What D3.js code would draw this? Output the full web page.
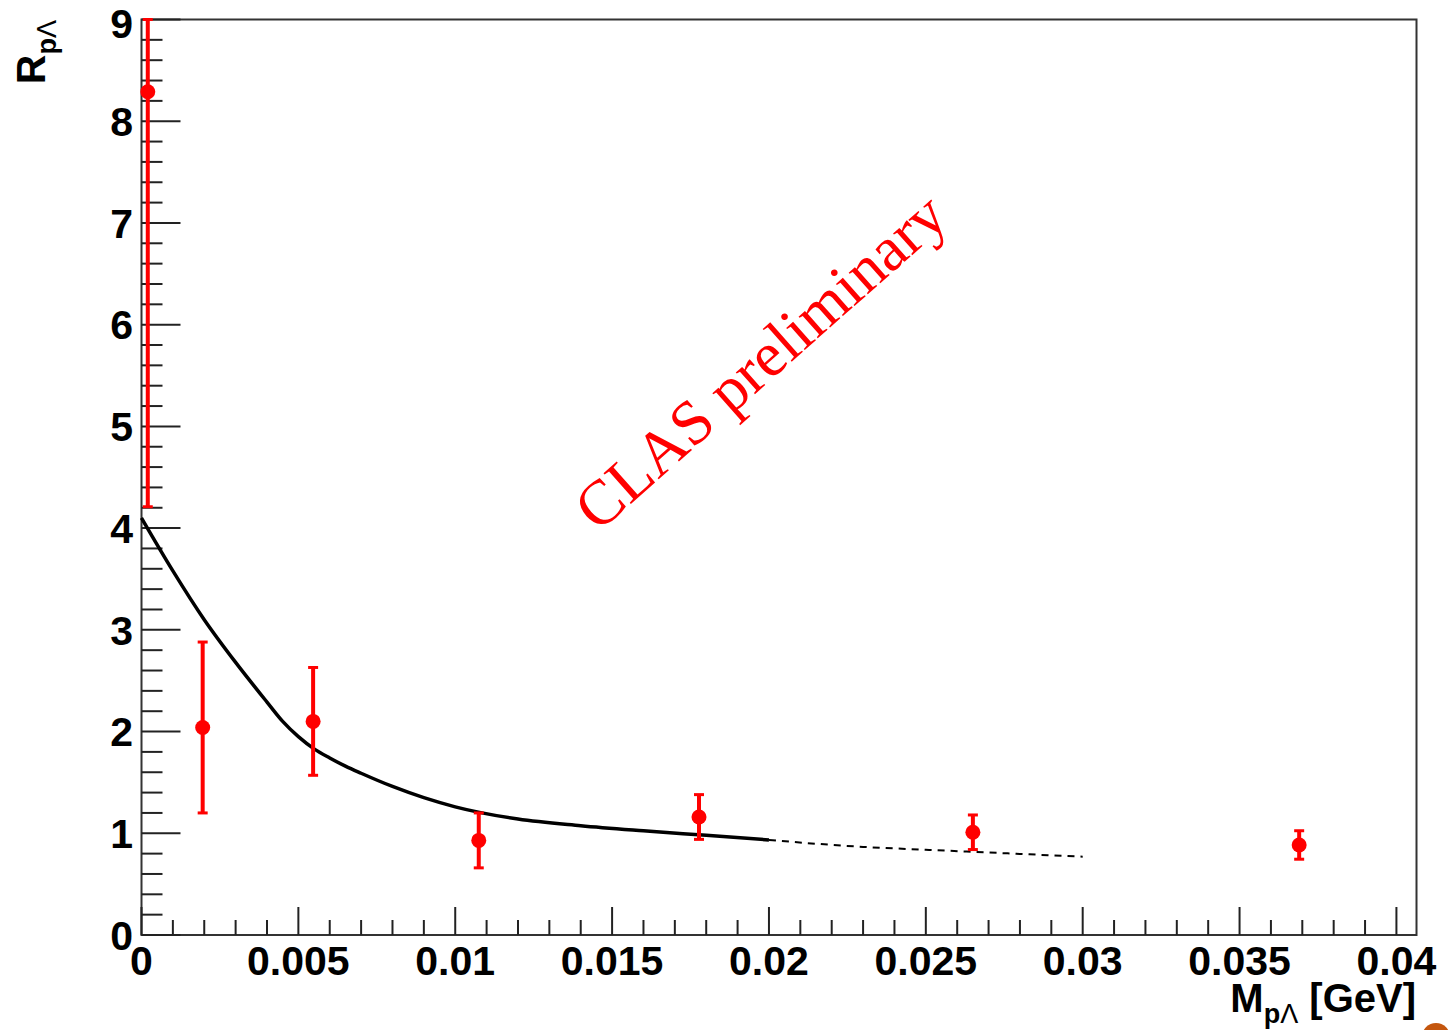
<!DOCTYPE html>
<html>
<head>
<meta charset="utf-8">
<script src="https://cdn.jsdelivr.net/npm/d3@7"></script>
<style>
  body { margin: 0; background: #fff; }
  svg { display: block; }
</style>
</head>
<body>
<svg id="chart" width="1452" height="1030"></svg>
<script>
// ---- data ----
var pointX = [0.0002, 0.00195, 0.00547, 0.01075, 0.01777, 0.0265, 0.0369];
var pointY = [8.29, 2.04, 2.10, 0.93, 1.16, 1.01, 0.885];
var pointErr = [4.08, 0.84, 0.53, 0.27, 0.22, 0.17, 0.14];

// fitted curve (solid part) and its extrapolation (dashed)
var fitX = [0, 0.001, 0.002, 0.003, 0.004, 0.0045, 0.005, 0.0055, 0.006, 0.0065, 0.007, 0.008, 0.009,
            0.010, 0.012, 0.014, 0.016, 0.018, 0.020];
var fitY = [4.10, 3.58, 3.10, 2.68, 2.29, 2.10, 1.95, 1.83, 1.74, 1.66, 1.59, 1.46, 1.35,
            1.26, 1.14, 1.075, 1.025, 0.98, 0.935];
var extX = [0.0200, 0.0215, 0.0230, 0.0250, 0.0265, 0.0280, 0.0300];
var extY = [0.935, 0.897, 0.866, 0.838, 0.818, 0.797, 0.77];

var xTicks = [0, 0.005, 0.01, 0.015, 0.02, 0.025, 0.03, 0.035, 0.04];
var xTickLabels = ["0", "0.005", "0.01", "0.015", "0.02", "0.025", "0.03", "0.035", "0.04"];
var yTicks = [0, 1, 2, 3, 4, 5, 6, 7, 8, 9];

// ---- layout ----
var svg = d3.select("#chart");
var padL = 141.5, padT = 19.5, padR = 1416.5, padB = 935;

var x = d3.scaleLinear().domain([0, 0.04064]).range([padL, padR]);
var y = d3.scaleLinear().domain([0, 9]).range([padB, padT]);

svg.append("rect").attr("width", 1452).attr("height", 1030).attr("fill", "#fff");

// frame
svg.append("rect")
  .attr("x", padL).attr("y", padT)
  .attr("width", padR - padL).attr("height", padB - padT)
  .attr("fill", "none").attr("stroke", "#333").attr("stroke-width", 2);

// x axis ticks
var xMinor = d3.range(0, 41).map(function(i) { return i * 0.001; });
svg.append("g").selectAll("line").data(xMinor).enter().append("line")
  .attr("x1", function(d) { return x(d); }).attr("x2", function(d) { return x(d); })
  .attr("y1", padB).attr("y2", function(d, i) { return i % 5 == 0 ? padB - 28 : padB - 15; })
  .attr("stroke", "#222").attr("stroke-width", 2);

svg.append("g").selectAll("text").data(xTicks).enter().append("text")
  .attr("x", function(d) { return x(d); })
  .attr("y", 975)
  .attr("text-anchor", "middle")
  .style("font", "bold 41px 'Liberation Sans', Arial, sans-serif")
  .text(function(d, i) { return xTickLabels[i]; });

// y axis ticks
var yMinor = d3.range(0, 46).map(function(i) { return i * 0.2; });
svg.append("g").selectAll("line").data(yMinor).enter().append("line")
  .attr("y1", function(d) { return y(d); }).attr("y2", function(d) { return y(d); })
  .attr("x1", padL).attr("x2", function(d, i) { return i % 5 == 0 ? padL + 39 : padL + 21; })
  .attr("stroke", "#222").attr("stroke-width", 2);

svg.append("g").selectAll("text").data(yTicks).enter().append("text")
  .attr("x", 133)
  .attr("y", function(d) { return d == 9 ? y(d) + 4 : y(d); })
  .attr("dy", "0.36em")
  .attr("text-anchor", "end")
  .style("font", "bold 41px 'Liberation Sans', Arial, sans-serif")
  .text(function(d) { return d; });

// axis titles
var xt = svg.append("text")
  .attr("x", 1416).attr("y", 1012)
  .attr("text-anchor", "end")
  .style("font", "bold 40px 'Liberation Sans', Arial, sans-serif");
xt.append("tspan").text("M");
xt.append("tspan").attr("dy", 11).style("font-size", "27px").text("p");
xt.append("tspan").style("font-size", "27px").style("font-weight", "normal").text("Λ");
xt.append("tspan").attr("dy", -11).text(" [GeV]");

var yt = svg.append("text")
  .attr("transform", "translate(45,20) rotate(-90)")
  .attr("text-anchor", "end")
  .style("font", "bold 41px 'Liberation Sans', Arial, sans-serif");
yt.append("tspan").text("R");
yt.append("tspan").attr("dy", 11).style("font-size", "27px").text("p");
yt.append("tspan").style("font-size", "27px").style("font-weight", "normal").text("Λ");

// curve
var line = d3.line()
  .x(function(d) { return x(d[0]); })
  .y(function(d) { return y(d[1]); })
  .curve(d3.curveMonotoneX);

svg.append("path")
  .datum(d3.zip(fitX, fitY))
  .attr("d", line)
  .attr("fill", "none").attr("stroke", "#000").attr("stroke-width", 3.5);

svg.append("path")
  .datum(d3.zip(extX, extY))
  .attr("d", line)
  .attr("fill", "none").attr("stroke", "#000").attr("stroke-width", 2)
  .attr("stroke-dasharray", "7,6");

// data points with error bars (clipped to the frame)
var pts = pointX.map(function(d, i) {
  return { x: pointX[i], y: pointY[i], lo: Math.max(pointY[i] - pointErr[i], 0), hi: Math.min(pointY[i] + pointErr[i], 9) };
});
var g = svg.append("g");
g.selectAll(".err").data(pts).enter().append("line")
  .attr("x1", function(d) { return x(d.x); }).attr("x2", function(d) { return x(d.x); })
  .attr("y1", function(d) { return y(d.lo); }).attr("y2", function(d) { return y(d.hi); })
  .attr("stroke", "red").attr("stroke-width", 4);
g.selectAll(".capHi").data(pts).enter().append("line")
  .attr("x1", function(d) { return x(d.x) - 5; }).attr("x2", function(d) { return x(d.x) + 5; })
  .attr("y1", function(d) { return y(d.hi); }).attr("y2", function(d) { return y(d.hi); })
  .attr("stroke", "red").attr("stroke-width", 3);
g.selectAll(".capLo").data(pts).enter().append("line")
  .attr("x1", function(d) { return x(d.x) - 5; }).attr("x2", function(d) { return x(d.x) + 5; })
  .attr("y1", function(d) { return y(d.lo); }).attr("y2", function(d) { return y(d.lo); })
  .attr("stroke", "red").attr("stroke-width", 3);
g.selectAll("circle").data(pts).enter().append("circle")
  .attr("cx", function(d) { return x(d.x); })
  .attr("cy", function(d) { return y(d.y); })
  .attr("r", 7.5).attr("fill", "red");

// watermark
svg.append("text")
  .attr("transform", "translate(598,533) rotate(-41.5)")
  .style("font", "63px 'Liberation Serif', 'Times New Roman', serif")
  .attr("fill", "red")
  .text("CLAS preliminary");

// slide decoration in the corner
svg.append("circle")
  .attr("cx", 1436).attr("cy", 1037).attr("r", 14)
  .attr("fill", "#c4560e");
</script>
</body>
</html>
